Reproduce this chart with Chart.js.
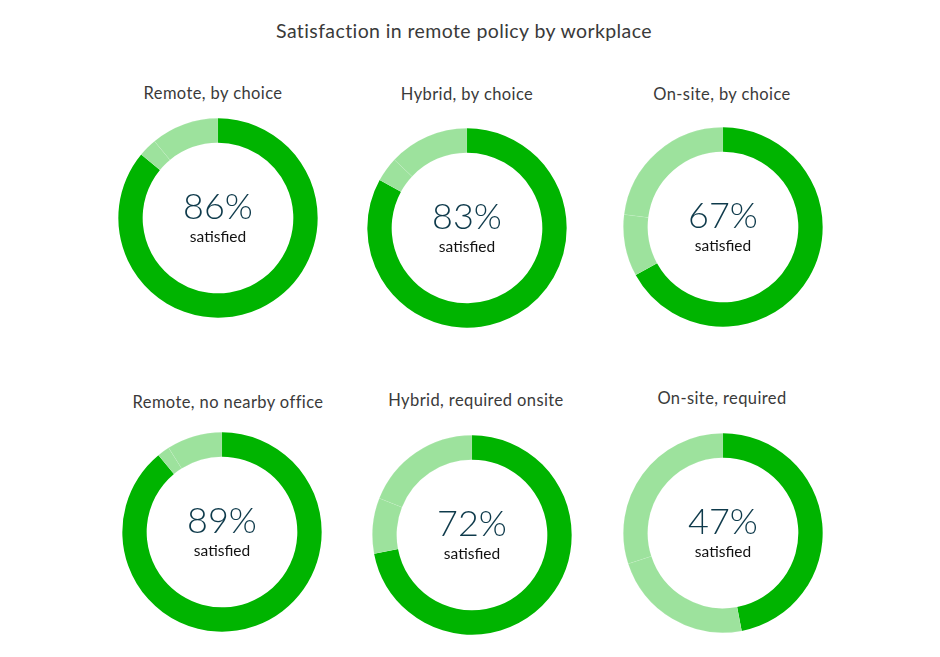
<!DOCTYPE html>
<html>
<head>
<meta charset="utf-8">
<script src="https://cdn.jsdelivr.net/npm/chart.js@4.4.1/dist/chart.umd.min.js"></script>
<style>
  html, body { margin: 0; padding: 0; background: #fff; }
  #page { position: relative; width: 940px; height: 657px; overflow: hidden; font-family: 'Lato', sans-serif; }
  h1 { position: absolute; left: 0; width: 928px; top: 19px; margin: 0; text-align: center; font-weight: 400; font-size: 19.5px; letter-spacing: 0.4px; color: #3a3a3a; }
  .label { position: absolute; width: 260px; text-align: center; font-size: 16.5px; letter-spacing: 0.4px; color: #3a3a3a; }
  .box { position: absolute; width: 200px; height: 200px; }
</style>
</head>
<body>
<div id="page">
  <h1>Satisfaction in remote policy by workplace</h1>
</div>
<script>
const TITLES = [
  'Remote, by choice',
  'Hybrid, by choice',
  'On-site, by choice',
  'Remote, no nearby office',
  'Hybrid, required onsite',
  'On-site, required',
];
const SATISFIED = [86, 83, 67, 89, 72, 47];
const NEUTRAL = [3, 4, 10, 2, 9, 23];
const DISSATISFIED = [11, 13, 23, 9, 19, 30];

const COLOR_DARK = '#00b400';
const COLOR_LIGHT = '#9de29d';

// ring centre and title position for each panel
const LAYOUT = [
  { cx: 217.5, cy: 218, ty: 83 },
  { cx: 466.5, cy: 228, ty: 84 },
  { cx: 722.5, cy: 227, ty: 84 },
  { cx: 222, cy: 532, ty: 392 },
  { cx: 472, cy: 535, ty: 390 },
  { cx: 722.5, cy: 533, ty: 388 },
];
const LABEL_X = [213, 467, 722, 228, 476, 722];

const centerText = {
  id: 'centerText',
  afterDraw(chart) {
    const { ctx, chartArea } = chart;
    const x = (chartArea.left + chartArea.right) / 2;
    const y = (chartArea.top + chartArea.bottom) / 2;
    const pct = chart.options.plugins.centerText.value;
    ctx.save();
    ctx.textAlign = 'center';
    ctx.textBaseline = 'alphabetic';
    ctx.fillStyle = '#0e3a4b';
    ctx.font = '300 36px Lato';
    ctx.fillText(`${pct}%`, x, y + 1);
    ctx.fillStyle = '#111';
    ctx.font = '400 15.5px Lato';
    ctx.fillText('satisfied', x, y + 24);
    ctx.restore();
  },
};

const page = document.getElementById('page');

TITLES.forEach((title, i) => {
  const pos = LAYOUT[i];

  const lbl = document.createElement('div');
  lbl.className = 'label';
  lbl.textContent = title;
  lbl.style.left = `${LABEL_X[i] - 130}px`;
  lbl.style.top = `${pos.ty}px`;
  page.appendChild(lbl);

  const box = document.createElement('div');
  box.className = 'box';
  box.style.left = `${pos.cx - 100}px`;
  box.style.top = `${pos.cy - 100}px`;
  const canvas = document.createElement('canvas');
  box.appendChild(canvas);
  page.appendChild(box);

  new Chart(canvas, {
    type: 'doughnut',
    data: {
      labels: ['Satisfied', 'Neutral', 'Dissatisfied'],
      datasets: [{
        data: [SATISFIED[i], NEUTRAL[i], DISSATISFIED[i]],
        backgroundColor: [COLOR_DARK, COLOR_LIGHT, COLOR_LIGHT],
        borderColor: 'rgba(255,255,255,0.1)',
        borderWidth: [0, 0.5, 0.5],
        borderAlign: 'inner',
      }],
    },
    options: {
      responsive: true,
      maintainAspectRatio: false,
      animation: false,
      cutout: '75%',
      layout: { padding: 0 },
      plugins: {
        legend: { display: false },
        tooltip: { enabled: false },
        centerText: { value: SATISFIED[i] },
      },
    },
    plugins: [centerText],
  });
});
</script>
</body>
</html>
